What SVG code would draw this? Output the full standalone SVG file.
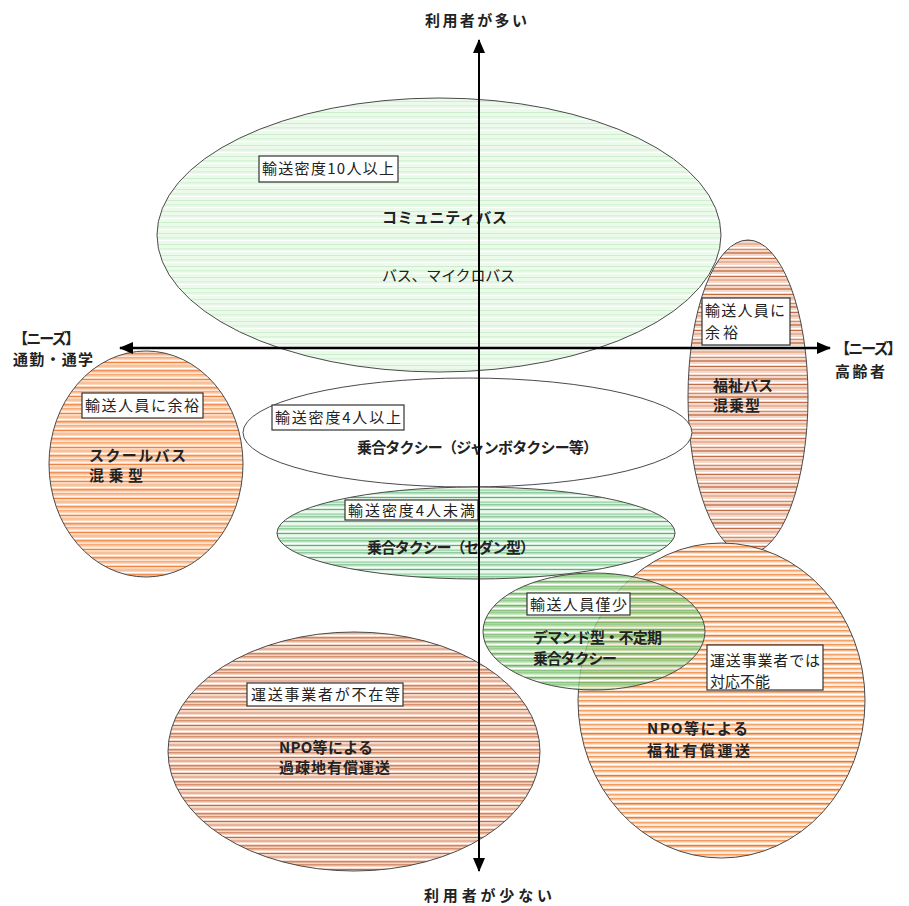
<svg xmlns="http://www.w3.org/2000/svg" width="909" height="906" viewBox="0 0 909 906">
<style>
.ell{stroke:#4a4a4a;stroke-width:1}
.box{fill:#ffffff;stroke:#333333;stroke-width:1.2}
text{font-family:"Noto Sans CJK JP","Noto Sans CJK SC",sans-serif;font-size:15px;fill:#222222}
.b{font-weight:700}
.axis{stroke:#000000;fill:none}
</style>
<defs>
<marker id="arr" viewBox="0 0 14 12" markerUnits="userSpaceOnUse" markerWidth="14" markerHeight="12" refX="13" refY="6" orient="auto-start-reverse">
<path d="M0,0 L14,6 L0,12 Z" fill="#000000"/>
</marker>
<pattern id="pCom" patternUnits="userSpaceOnUse" width="8" height="11">
<rect width="8" height="11" fill="#ecfaec"/>
<rect y="2" width="8" height="1" fill="#cdeecd"/>
<rect y="6" width="8" height="1.5" fill="#d8f3d8"/>
<rect y="9" width="8" height="1" fill="#ffffff"/>
</pattern>
<pattern id="pSchool" patternUnits="userSpaceOnUse" width="8" height="17">
<rect width="8" height="17" fill="#fcd6bb"/>
<rect y="0" width="8" height="1.5" fill="#f7ab78"/>
<rect y="3" width="8" height="1" fill="#fff2e8"/>
<rect y="5" width="8" height="1" fill="#ef8442"/>
<rect y="8" width="8" height="2" fill="#f9c19a"/>
<rect y="11" width="8" height="1" fill="#ffffff"/>
<rect y="13" width="8" height="1.5" fill="#f29155"/>
<rect y="16" width="8" height="1" fill="#fde6d6"/>
</pattern>
<pattern id="pWel" patternUnits="userSpaceOnUse" width="8" height="18">
<rect width="8" height="18" fill="#f2d9cc"/>
<rect y="0" width="8" height="2" fill="#d68f6c"/>
<rect y="4" width="8" height="1" fill="#ffffff"/>
<rect y="6" width="8" height="1" fill="#c36c45"/>
<rect y="9" width="8" height="2" fill="#e8b59b"/>
<rect y="13" width="8" height="1" fill="#ffffff"/>
<rect y="15" width="8" height="1" fill="#d38a66"/>
</pattern>
<pattern id="pRural" patternUnits="userSpaceOnUse" width="8" height="16">
<rect width="8" height="16" fill="#f3d7c8"/>
<rect y="0" width="8" height="1.5" fill="#d7916f"/>
<rect y="3" width="8" height="1" fill="#ffffff"/>
<rect y="5" width="8" height="1" fill="#c06b45"/>
<rect y="8" width="8" height="2" fill="#e6b39a"/>
<rect y="11" width="8" height="1" fill="#ffffff"/>
<rect y="13" width="8" height="1.5" fill="#cf8560"/>
</pattern>
<pattern id="pNpo" patternUnits="userSpaceOnUse" width="8" height="14">
<rect width="8" height="14" fill="#fde0cb"/>
<rect y="0" width="8" height="1.5" fill="#f39b5c"/>
<rect y="3" width="8" height="1" fill="#ffffff"/>
<rect y="5" width="8" height="1.5" fill="#ec7a2e"/>
<rect y="8" width="8" height="1" fill="#ffffff"/>
<rect y="10" width="8" height="1.5" fill="#f4a56c"/>
<rect y="12.5" width="8" height="1" fill="#fff4ec"/>
</pattern>
<pattern id="pSedan" patternUnits="userSpaceOnUse" width="8" height="12">
<rect width="8" height="12" fill="#d9f0de"/>
<rect y="0" width="8" height="1.5" fill="#8fcc9c"/>
<rect y="3" width="8" height="1" fill="#ffffff"/>
<rect y="5" width="8" height="1" fill="#5fae72"/>
<rect y="7.5" width="8" height="1" fill="#ffffff"/>
<rect y="9.5" width="8" height="1.5" fill="#a8d8b2"/>
</pattern>
<pattern id="pDem" patternUnits="userSpaceOnUse" width="8" height="12">
<rect width="8" height="12" fill="#bfe3b6"/>
<rect y="0" width="8" height="1.5" fill="#7fc273"/>
<rect y="3" width="8" height="1" fill="#f4fbf2"/>
<rect y="5" width="8" height="1.5" fill="#4c9c43"/>
<rect y="8" width="8" height="1" fill="#ffffff"/>
<rect y="10" width="8" height="1.5" fill="#6cb660"/>
</pattern>
</defs>

<g id="community-bus">
<ellipse class="ell" cx="439" cy="235" rx="282" ry="137" fill="url(#pCom)"/>
<rect class="box" x="259" y="156" width="139" height="26"/>
<text x="262" y="174" textLength="132">輸送密度10人以上</text>
<text class="b" x="382" y="223" textLength="125">コミュニティバス</text>
<text x="382" y="281" textLength="133">バス、マイクロバス</text>
</g>

<g id="welfare-bus">
<ellipse class="ell" cx="748" cy="397" rx="60" ry="157" fill="url(#pWel)"/>
<rect class="box" x="702" y="298" width="88" height="47"/>
<text x="705" y="316" textLength="80">輸送人員に</text>
<text x="705" y="338" textLength="33">余裕</text>
<text class="b" x="713" y="391" textLength="60">福祉バス</text>
<text class="b" x="713" y="411" textLength="47">混乗型</text>
</g>

<g id="school-bus">
<ellipse class="ell" cx="146" cy="464" rx="97" ry="113" fill="url(#pSchool)"/>
<rect class="box" x="82" y="393" width="121" height="25"/>
<text x="85" y="411" textLength="114">輸送人員に余裕</text>
<text class="b" x="89" y="461" textLength="97">スクールバス</text>
<text class="b" x="89" y="481" textLength="54">混乗型</text>
</g>

<g id="jumbo-taxi">
<ellipse class="ell" cx="467.5" cy="432.5" rx="224.5" ry="54.5" fill="#ffffff"/>
<rect class="box" x="272" y="405" width="132" height="25"/>
<text x="275" y="423" textLength="126">輸送密度4人以上</text>
<text class="b" x="357" y="453" textLength="241">乗合タクシー（ジャンボタクシー等）</text>
</g>

<g id="sedan-taxi">
<ellipse class="ell" cx="476" cy="533" rx="199" ry="46" fill="url(#pSedan)"/>
<rect class="box" x="345" y="500" width="133" height="20"/>
<text x="348" y="516" textLength="127">輸送密度4人未満</text>
<text class="b" x="367" y="553" textLength="168">乗合タクシー（セダン型）</text>
</g>

<g id="rural-npo">
<ellipse class="ell" cx="354" cy="751.5" rx="186" ry="119.5" fill="url(#pRural)"/>
<rect class="box" x="247" y="683" width="156" height="23"/>
<text x="251" y="700" textLength="149">運送事業者が不在等</text>
<text class="b" x="279" y="753" textLength="94">NPO等による</text>
<text class="b" x="279" y="773" textLength="111">過疎地有償運送</text>
</g>

<g id="welfare-npo">
<ellipse class="ell" cx="721.5" cy="700.5" rx="143.5" ry="157.5" fill="url(#pNpo)"/>
</g>

<g id="demand-taxi">
<ellipse class="ell" cx="594" cy="631.5" rx="111" ry="58.5" fill="url(#pDem)" fill-opacity="0.78"/>
<rect class="box" x="527" y="593" width="103" height="22"/>
<text x="530" y="610" textLength="97">輸送人員僅少</text>
<text class="b" x="533" y="643" textLength="129">デマンド型・不定期</text>
<text class="b" x="533" y="664" textLength="84">乗合タクシー</text>
</g>

<g id="welfare-npo-labels">
<rect class="box" x="707" y="645" width="116" height="45"/>
<text x="710" y="666" textLength="110">運送事業者では</text>
<text x="710" y="687" textLength="60">対応不能</text>
<text class="b" x="647" y="734" textLength="101">NPO等による</text>
<text class="b" x="647" y="756" textLength="103">福祉有償運送</text>
</g>

<g id="connectors">
<line class="axis" x1="479" y1="871" x2="479" y2="40" stroke-width="2" marker-start="url(#arr)" marker-end="url(#arr)"/>
<line class="axis" x1="120" y1="348" x2="830" y2="348" stroke-width="2.5" marker-start="url(#arr)" marker-end="url(#arr)"/>
</g>

<g id="axis-labels">
<text class="b" x="425" y="26" textLength="102">利用者が多い</text>
<text class="b" x="424" y="901" textLength="128">利用者が少ない</text>
<text class="b" x="13" y="344" textLength="67">【ニーズ】</text>
<text class="b" x="13" y="365" textLength="80">通勤・通学</text>
<text class="b" x="835" y="354" textLength="67">【ニーズ】</text>
<text class="b" x="835" y="377" textLength="50">高齢者</text>
</g>
</svg>
